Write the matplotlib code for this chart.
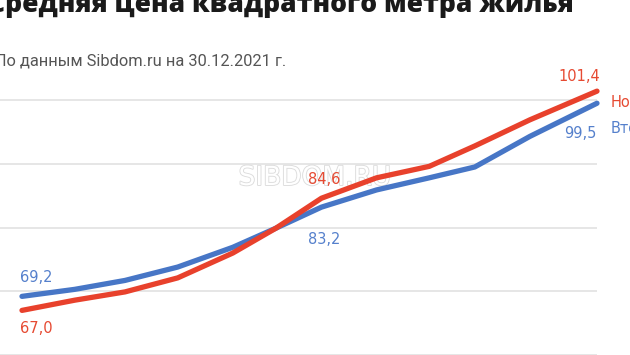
import matplotlib
matplotlib.use('Agg')
import matplotlib.pyplot as plt
import matplotlib.patheffects as pe

# Средняя цена м², тыс. руб. (оценка по картинке)
x_pts = [0, 1.1, 2.15, 3.25, 4.4, 5.3, 6.25, 7.4, 8.5, 9.45, 10.6, 12]
novostroyki = [67.0, 68.6, 69.9, 72.1, 76.0, 79.9, 84.6, 87.8, 89.6, 92.8, 96.9, 101.4]
vtorichka = [69.2, 70.3, 71.7, 73.8, 76.9, 79.9, 83.2, 85.9, 87.8, 89.5, 94.3, 99.5]
grid_vals = [60, 70, 80, 90, 100]

red = '#E8412C'
blue = '#4776C6'
red_txt = '#E64A32'
blue_txt = '#5580CC'

fig = plt.figure(figsize=(6.3, 3.55), dpi=100)
ax = fig.add_axes([0, 0, 1, 1])
ax.set_xlim(-0.459, 12.689)
ax.set_ylim(60, 115.7)
ax.axis('off')

ax.hlines(grid_vals, -0.459, 12, color='#e2e2e2', lw=1.2, zorder=1)

# водяной знак
ax.text(0.5, 1 - 178 / 355, 'SIBDOM.RU', transform=ax.transAxes, ha='center', va='center',
        fontsize=19, color='white', zorder=2,
        path_effects=[pe.withStroke(linewidth=1.3, foreground='#dcdcdc')])

ax.plot(x_pts, vtorichka, color=blue, lw=3.8, solid_capstyle='round', zorder=3)
ax.plot(x_pts, novostroyki, color=red, lw=3.8, solid_capstyle='round', zorder=4)

fnt = dict(family='DejaVu Sans', fontsize=10.5, zorder=5)
# подписи значений
ax.annotate('69,2', (x_pts[0], vtorichka[0]), xytext=(-2, 19), textcoords='offset pixels',
            color=blue_txt, ha='left', va='center', **fnt)
ax.annotate('67,0', (x_pts[0], novostroyki[0]), xytext=(-2, -18), textcoords='offset pixels',
            color=red_txt, ha='left', va='center', **fnt)
ax.annotate('84,6', (x_pts[6], novostroyki[6]), xytext=(3, 19), textcoords='offset pixels',
            color=red_txt, ha='center', va='center', **fnt)
ax.annotate('83,2', (x_pts[6], vtorichka[6]), xytext=(3, -32), textcoords='offset pixels',
            color=blue_txt, ha='center', va='center', **fnt)
ax.annotate('101,4', (x_pts[-1], novostroyki[-1]), xytext=(3, 15), textcoords='offset pixels',
            color=red_txt, ha='right', va='center', **fnt)
ax.annotate('99,5', (x_pts[-1], vtorichka[-1]), xytext=(0, -30), textcoords='offset pixels',
            color=blue_txt, ha='right', va='center', **fnt)

# легенда справа (обрезана краем)
ax.annotate('Новостройки', (x_pts[-1], 100), xytext=(14, -2), textcoords='offset pixels',
            color=red_txt, ha='left', va='center', fontsize=10.5)
ax.annotate('Вторичка', (x_pts[-1], 100), xytext=(14, -28), textcoords='offset pixels',
            color=blue_txt, ha='left', va='center', fontsize=10.5)

fig.text(-12 / 630, 1 - 12 / 355, 'Средняя цена квадратного метра жилья',
         fontsize=19, fontweight='heavy', color='#1a1a1a', ha='left', va='baseline',
         family='Open Sans')
fig.text(-5 / 630, 1 - 65 / 355, 'По данным Sibdom.ru на 30.12.2021 г.',
         fontsize=11.8, color='#555555', ha='left', va='baseline', family='Roboto')

fig.savefig('out.png', dpi=100)
